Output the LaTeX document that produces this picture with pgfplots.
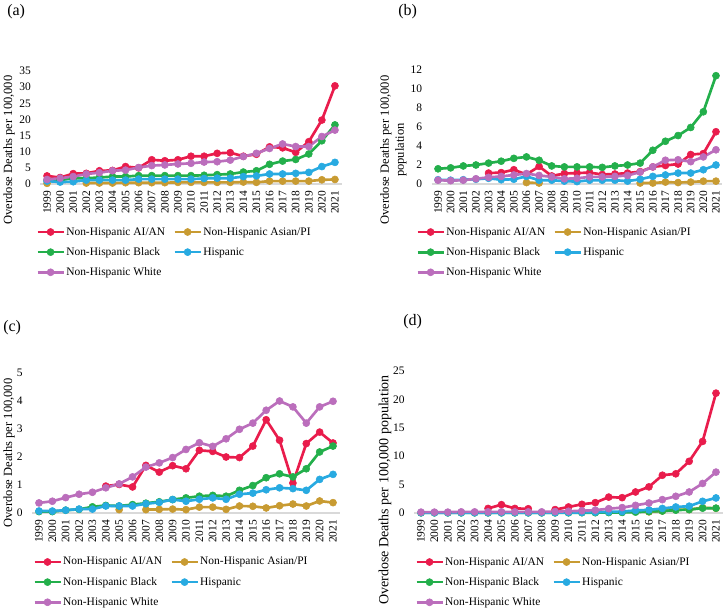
\documentclass[border=0pt]{standalone}
\usepackage{fontspec}
\setmainfont{Liberation Serif}
\usepackage{pgfplots}
\usepackage{pgfplotstable}
\pgfplotsset{compat=1.18}

\definecolor{cAI}{RGB}{233,28,76}
\definecolor{cAS}{RGB}{200,155,50}
\definecolor{cBL}{RGB}{35,175,75}
\definecolor{cHI}{RGB}{40,170,225}
\definecolor{cWH}{RGB}{187,110,188}

\newcommand{\tickfont}{\fontsize{8.6}{10}\selectfont}
\newcommand{\labfont}{\fontsize{9.4}{11.25}\selectfont}
\newcommand{\panfont}{\fontsize{12}{14}\selectfont}

% year, AI/AN, Asian/PI, Black, Hispanic, White
\pgfplotstableread{
year ai asian black hisp white
1999 2.5 0.2 1.2 0.9 1.4
2000 2.0 nan 1.2 0.6 1.8
2001 3.2 nan 1.8 0.7 2.3
2002 3.3 0.3 1.8 1.2 3.1
2003 4.1 0.3 2.0 1.2 3.5
2004 4.2 0.3 2.3 1.2 4.1
2005 5.4 0.4 2.3 1.2 4.3
2006 5.0 0.4 2.6 1.5 5.1
2007 7.5 0.4 2.6 1.5 5.7
2008 7.2 0.4 2.6 1.5 5.9
2009 7.5 0.5 2.6 1.5 6.2
2010 8.6 0.5 2.6 1.5 6.4
2011 8.6 0.5 2.7 1.7 6.8
2012 9.5 0.5 2.9 1.8 6.9
2013 9.7 0.5 3.1 1.8 7.4
2014 8.6 0.6 3.7 2.3 8.5
2015 9.2 0.5 4.1 2.5 9.5
2016 11.5 0.9 6.1 3.1 11.0
2017 11.2 0.9 7.1 3.1 12.4
2018 9.8 0.9 7.6 3.3 11.6
2019 13.1 0.9 9.3 3.6 11.6
2020 19.8 1.3 13.4 5.4 14.7
2021 30.4 1.4 18.3 6.7 16.7
}\tabA

\pgfplotstableread{
year ai asian black hisp white
1999 nan nan 1.6 0.45 0.4
2000 nan nan 1.7 0.4 0.35
2001 nan nan 1.9 0.45 0.4
2002 nan nan 2.0 0.5 0.55
2003 1.15 nan 2.2 0.6 0.7
2004 1.2 nan 2.4 0.45 0.8
2005 1.5 nan 2.7 0.5 0.95
2006 1.0 0.15 2.85 0.8 1.1
2007 1.85 0.1 2.5 0.4 0.9
2008 0.85 nan 1.9 0.4 0.75
2009 1.1 nan 1.8 0.3 0.55
2010 1.15 nan 1.8 0.25 0.6
2011 1.2 nan 1.8 0.4 0.75
2012 1.0 nan 1.75 0.4 0.75
2013 1.05 nan 1.9 0.4 0.8
2014 1.15 nan 2.0 0.3 0.9
2015 1.3 0.1 2.2 0.5 1.25
2016 1.8 0.1 3.55 0.8 1.8
2017 1.95 0.2 4.5 0.95 2.5
2018 2.1 0.15 5.1 1.15 2.55
2019 3.1 0.2 5.95 1.15 2.35
2020 3.2 0.3 7.6 1.5 2.85
2021 5.5 0.3 11.4 2.0 3.6
}\tabB

\pgfplotstableread{
year ai asian black hisp white
1999 nan nan 0.05 0.07 0.36
2000 nan nan 0.05 0.07 0.42
2001 nan nan 0.1 0.1 0.55
2002 nan nan 0.13 0.14 0.67
2003 nan nan 0.22 0.14 0.74
2004 0.96 nan 0.27 0.25 0.9
2005 1.02 0.12 0.25 0.25 1.04
2006 0.93 nan 0.3 0.25 1.29
2007 1.70 0.12 0.35 0.33 1.64
2008 1.46 0.13 0.4 0.38 1.79
2009 1.69 0.14 0.48 0.48 1.98
2010 1.58 0.12 0.54 0.42 2.27
2011 2.24 0.21 0.6 0.49 2.51
2012 2.2 0.21 0.63 0.54 2.38
2013 2.0 0.13 0.6 0.49 2.65
2014 1.98 0.25 0.81 0.67 2.99
2015 2.39 0.24 0.98 0.71 3.21
2016 3.33 0.18 1.26 0.83 3.67
2017 2.6 0.26 1.40 0.9 4.0
2018 1.07 0.32 1.29 0.87 3.79
2019 2.48 0.25 1.58 0.81 3.21
2020 2.89 0.43 2.18 1.2 3.79
2021 2.5 0.37 2.39 1.38 3.99
}\tabC

\pgfplotstableread{
year ai asian black hisp white
1999 nan nan 0.02 0.05 0.15
2000 nan nan 0.02 0.05 0.15
2001 nan nan 0.02 0.05 0.15
2002 nan nan 0.02 0.05 0.2
2003 nan nan 0.02 0.05 0.2
2004 0.8 nan 0.02 0.05 0.2
2005 1.47 nan 0.02 0.05 0.2
2006 0.8 nan 0.02 0.05 0.2
2007 0.75 nan 0.02 0.05 0.2
2008 nan nan 0.02 0.05 0.2
2009 0.6 nan 0.02 0.05 0.25
2010 1.06 nan 0.03 0.08 0.3
2011 1.53 nan 0.05 0.1 0.4
2012 1.82 nan 0.05 0.15 0.5
2013 2.8 nan 0.08 0.2 0.76
2014 2.7 nan 0.1 0.25 0.95
2015 3.7 nan 0.15 0.45 1.35
2016 4.6 0.2 0.25 0.55 1.76
2017 6.65 0.35 0.35 0.8 2.35
2018 6.9 0.6 0.5 1.06 2.94
2019 9.1 0.6 0.6 1.2 3.7
2020 12.6 0.94 0.85 2.06 5.2
2021 21.1 0.82 0.85 2.65 7.2
}\tabD

\pgfplotsset{
  panel/.style={
    scale only axis,
    anchor=south west,
    xmin=1998.5, xmax=2021.5, ymin=0,
    axis x line=bottom, axis y line=left,
    x axis line style={-, draw=black!15, line width=0.8pt},
    y axis line style={draw=none},
    major tick length=0pt,
    xtick={1999,...,2021},
    scaled x ticks=false,
    xticklabel style={rotate=90, anchor=east, font=\tickfont,
      /pgf/number format/1000 sep={}},
    yticklabel style={font=\tickfont},
    xticklabel shift=1.6pt,
    yticklabel shift=3.7pt,
    /pgf/number format/assume math mode=true,
    clip=false,
    unbounded coords=jump,
    every axis plot/.append style={line width=2pt, mark=*, mark size=2.65pt,
      mark options={solid, line width=0.4pt}},
    legend columns=2,
    legend cell align=left,
    legend style={draw=none, fill=none, font=\tickfont, anchor=north west,
      inner sep=0pt, row sep=5pt,
      nodes={inner sep=1pt, text height=6.3pt, text depth=1.8pt},
      /tikz/every even column/.append style={column sep=5pt}},
    legend image code/.code={
      \draw[mark repeat=2, mark phase=2] plot coordinates {(0pt,0pt) (9.75pt,0pt) (19.5pt,0pt)};},
  },
}

\newcommand{\series}[1]{%
  \addplot[cAI] table[x=year, y=ai] {#1};
  \addlegendentry{Non-Hispanic AI/AN}
  \addplot[cAS] table[x=year, y=asian] {#1};
  \addlegendentry{Non-Hispanic Asian/PI}
  \addplot[cBL] table[x=year, y=black] {#1};
  \addlegendentry{Non-Hispanic Black}
  \addplot[cHI] table[x=year, y=hisp] {#1};
  \addlegendentry{Hispanic}
  \addplot[cWH] table[x=year, y=white] {#1};
  \addlegendentry{Non-Hispanic White}
}

\begin{document}
\begin{tikzpicture}
\path[use as bounding box] (0pt,0pt) rectangle (544.5pt,458.25pt);

% (a)
\begin{axis}[panel, at={(30.375pt,320.25pt)}, width=225.75pt, height=84.75pt,
  ymax=35, ytick={0,5,...,35},
  legend style={at={(-0.015,-0.363)}}]
\series{\tabA}
\end{axis}

% (b)
\begin{axis}[panel, at={(323.775pt,320.25pt)}, width=217.95pt, height=85.5pt,
  ymax=12, ytick={0,2,...,12},
  legend style={at={(-0.054,-0.36)}}]
\series{\tabB}
\end{axis}

% (c)
\begin{axis}[panel, at={(24.225pt,73.5pt)}, width=230.55pt, height=105pt,
  ymax=5, ytick={0,1,...,5},
  legend style={at={(0.002,-0.30)}}]
\series{\tabC}
\end{axis}

% (d)
\begin{axis}[panel, at={(310.725pt,73.5pt)}, width=231.3pt, height=106.5pt,
  ymax=25, ytick={0,5,...,25},
  legend style={at={(0.002,-0.296)}}]
\series{\tabD}
\end{axis}

% panel letters
\node[anchor=west, font=\panfont, inner sep=0pt] at (5.25pt,449.25pt) {(a)};
\node[anchor=west, font=\panfont, inner sep=0pt] at (298.5pt,449.25pt) {(b)};
\node[anchor=west, font=\panfont, inner sep=0pt] at (2.25pt,212.25pt) {(c)};
\node[anchor=west, font=\panfont, inner sep=0pt] at (302.25pt,216.75pt) {(d)};

% axis titles
\node[rotate=90, font=\labfont, inner sep=0pt] at (6.75pt,345.75pt) {Overdose Deaths per 100,000};
\node[rotate=90, font=\labfont, inner sep=0pt, align=center] at (295.1pt,345.75pt) {Overdose Deaths per 100,000\\population};
\node[rotate=90, font=\labfont, inner sep=0pt] at (6.75pt,118.5pt) {Overdose Deaths per 100,000};
\node[rotate=90, font=\fontsize{10.5}{12}\selectfont, inner sep=0pt] at (288.75pt,90.75pt) {Overdose Deaths per 100,000 population};
\end{tikzpicture}
\end{document}
